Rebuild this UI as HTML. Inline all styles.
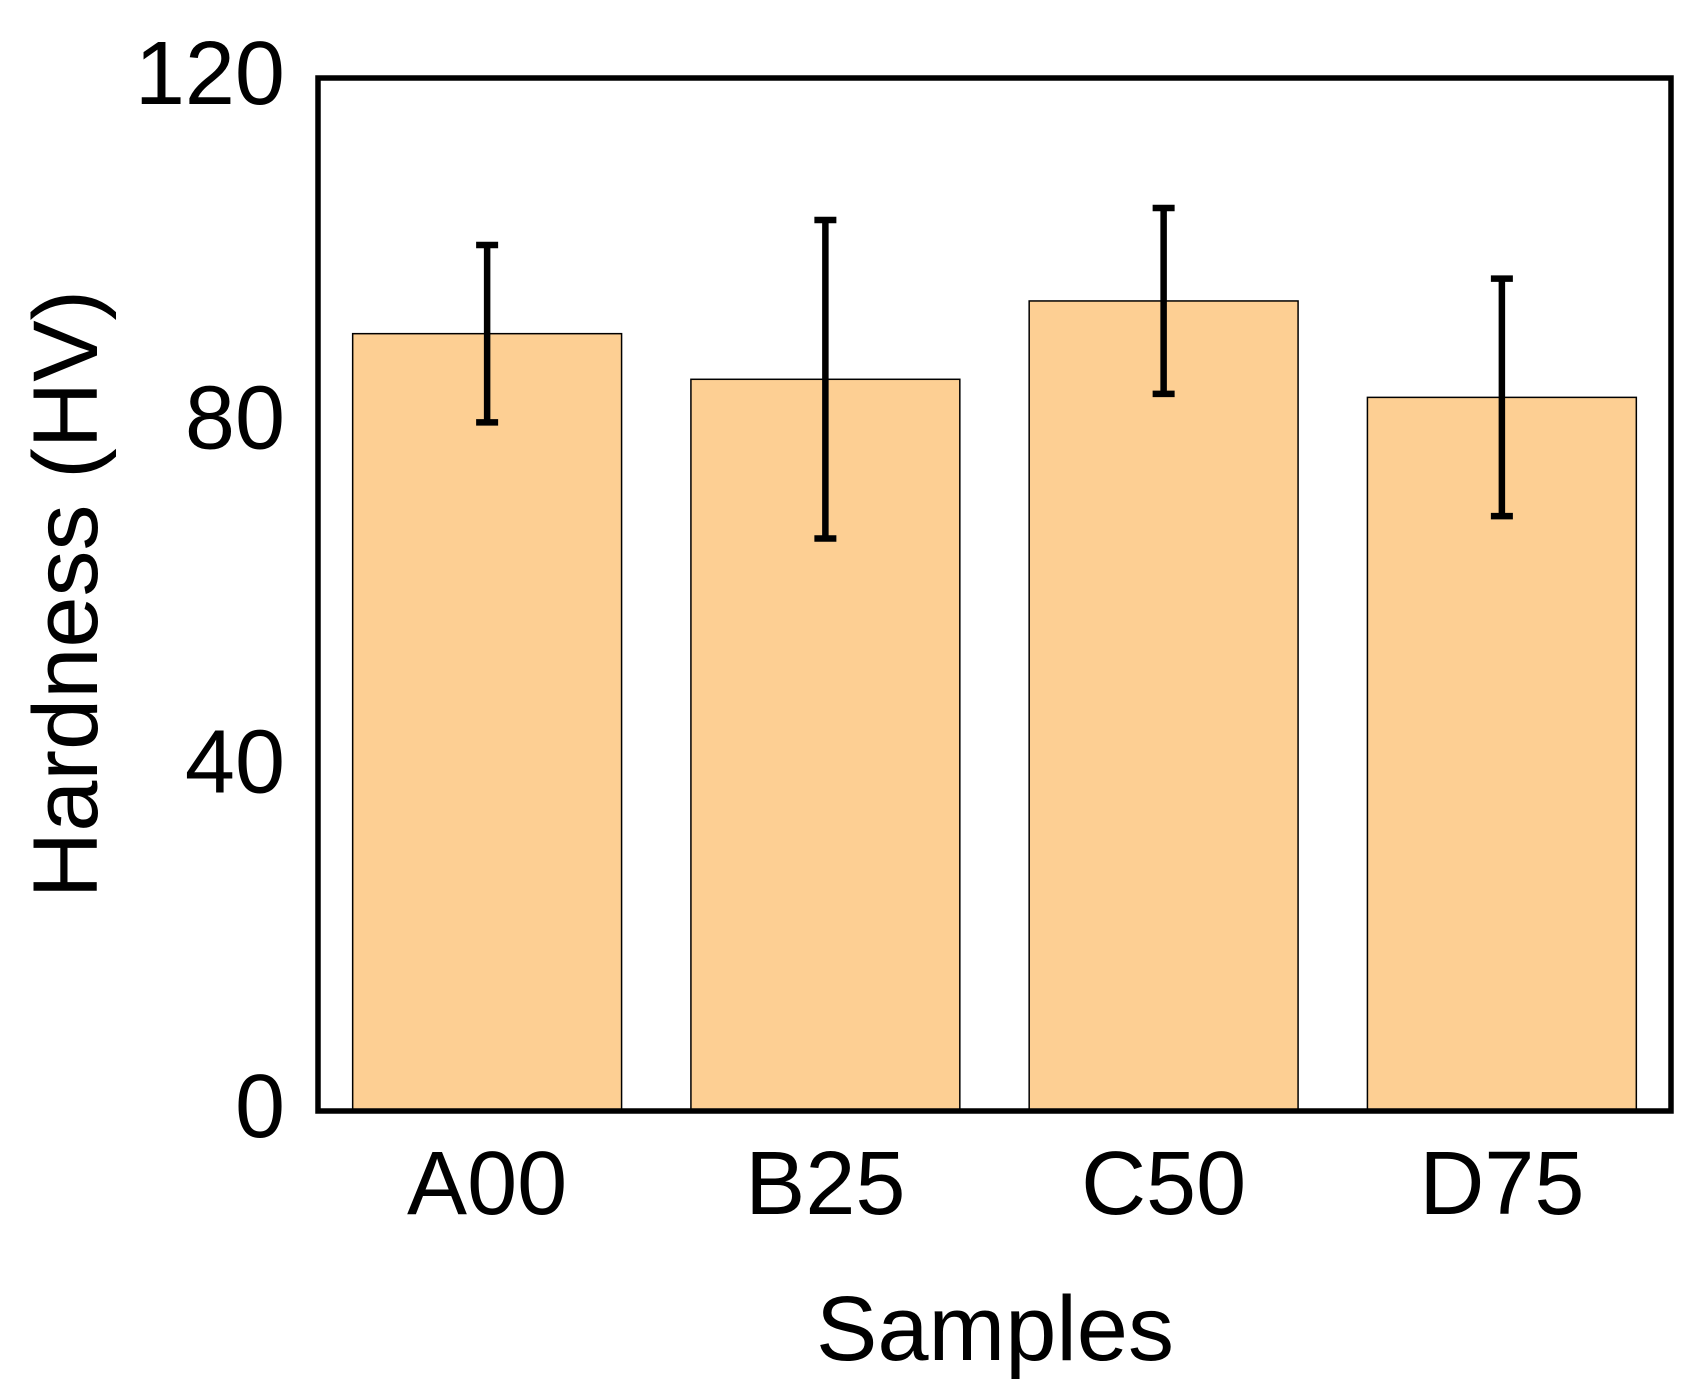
<!DOCTYPE html>
<html><head><meta charset="utf-8"><style>
html,body{margin:0;padding:0;background:#fff;}
svg{display:block;}
text{font-family:"Liberation Sans",Arial,sans-serif;fill:#000;}
</style></head><body>
<svg id="chart" width="1699" height="1400" viewBox="0 0 1699 1400">
<g id="bars"></g>
<g id="errs"></g>
<rect x="318" y="78" width="1353" height="1033" fill="none" stroke="#000" stroke-width="5.5"/>
<g id="yticks"></g>
<g id="xticks"></g>
<text x="995" y="1360" font-size="92" text-anchor="middle">Samples</text>
<text transform="translate(97,594) rotate(-90)" font-size="92" text-anchor="middle">Hardness (HV)</text>
</svg>
<script>
const categories = ["A00","B25","C50","D75"];
const values = [90.3, 85.0, 94.1, 82.9];
const errors = [10.3, 18.5, 10.8, 13.8];
const yTicks = [0, 40, 80, 120];

const L=318,R=1671,T=78,B=1111,yMax=120;
const ns="http://www.w3.org/2000/svg";
function y(v){return B-(v/yMax)*(B-T);}
const band=(R-L)/categories.length;
function xc(i){return L+band*(i+0.5);}
const bw=band*0.795;
function mk(tag,attrs,parent){const e=document.createElementNS(ns,tag);for(const k in attrs)e.setAttribute(k,attrs[k]);document.getElementById(parent).appendChild(e);return e;}

categories.forEach((c,i)=>{
  const b=mk("rect",{x:xc(i)-bw/2,y:y(values[i]),width:bw,height:B-y(values[i]),fill:"#FDCF93",stroke:"#000","stroke-width":1.5},"bars");
  
  
  const hi=y(values[i]+errors[i]),lo=y(values[i]-errors[i]),x=xc(i);
  const g=mk("g",{stroke:"#000","stroke-width":6.5},"errs");
  
  
  [[x,hi,x,lo],[x-11,hi,x+11,hi],[x-11,lo,x+11,lo]].forEach(p=>{
    const l=document.createElementNS(ns,"line");
    l.setAttribute("x1",p[0]);l.setAttribute("y1",p[1]);l.setAttribute("x2",p[2]);l.setAttribute("y2",p[3]);
    g.appendChild(l);
  });
  const t=mk("text",{x:x,y:1214,"font-size":90,"text-anchor":"middle"},"xticks");
  t.textContent=c;
  
  
});
yTicks.forEach(v=>{
  const t=mk("text",{x:285,y:y(v)+26,"font-size":90,"text-anchor":"end"},"yticks");
  t.textContent=v;
  
  
});
</script>
</body></html>
